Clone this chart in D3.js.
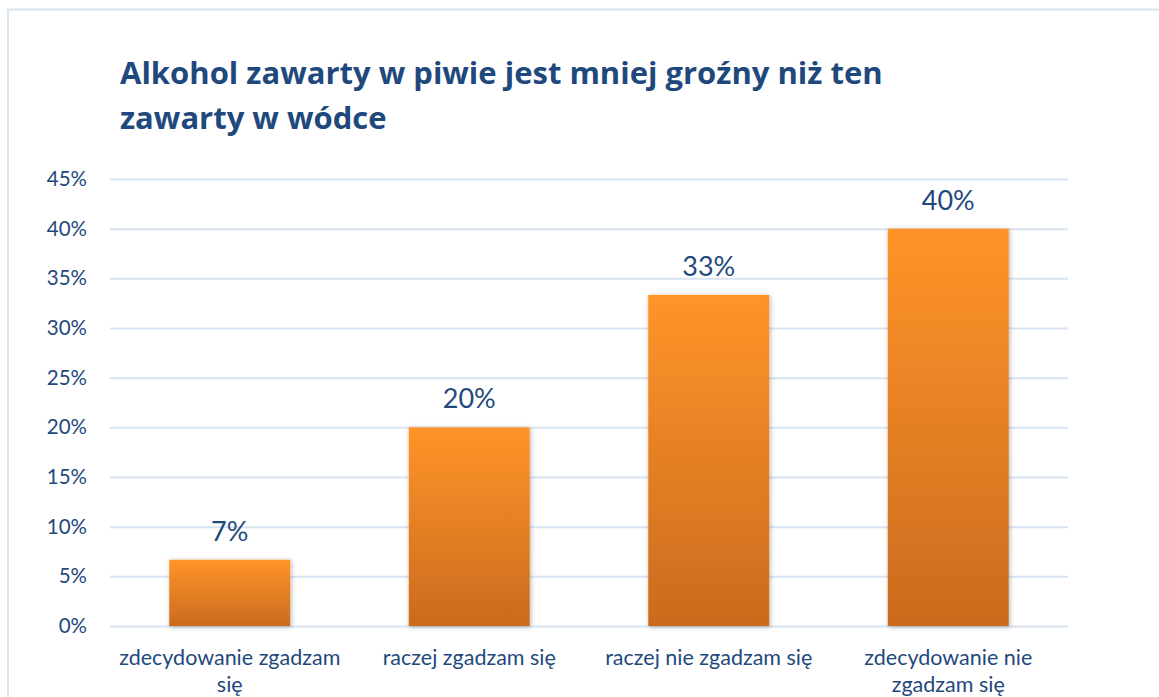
<!DOCTYPE html>
<html>
<head>
<meta charset="utf-8">
<script src="https://cdn.jsdelivr.net/npm/d3@7"></script>
<style>
  body { margin: 0; background: #fff; }
  svg { display: block; font-family: Lato, "Open Sans", sans-serif; }
  .tick-label, .cat-label, .value-label { fill: #1f497d; }
</style>
</head>
<body>
<script>
const categories = ["zdecydowanie zgadzam się", "raczej zgadzam się", "raczej nie zgadzam się", "zdecydowanie nie zgadzam się"]
const values = [6.67, 20, 33.33, 40]
const valueLabels = ["7%", "20%", "33%", "40%"]
const yTicks = [0, 5, 10, 15, 20, 25, 30, 35, 40, 45]
const titleLines = ["Alkohol zawarty w piwie jest mniej groźny niż ten", "zawarty w wódce"]

const w = 1159
const h = 697
const plotLeft = 110
const plotRight = 1068
const plotTop = 179
const plotBottom = 626
const textColor = "#1f497d"

const svg = d3.select("body")
  .append("svg")
  .attr("width", w)
  .attr("height", h)

const defs = svg.append("defs")
const grad = defs.append("linearGradient")
  .attr("id", "barGrad")
  .attr("x1", 0).attr("y1", 0)
  .attr("x2", 0).attr("y2", 1)
grad.append("stop").attr("offset", "0%").attr("stop-color", "#ff9429")
grad.append("stop").attr("offset", "100%").attr("stop-color", "#ca6b1e")

const shadow = defs.append("filter")
  .attr("id", "shadow")
  .attr("x", "-10%").attr("y", "-10%")
  .attr("width", "130%").attr("height", "130%")
shadow.append("feDropShadow")
  .attr("dx", 1).attr("dy", 1)
  .attr("stdDeviation", 2.5)
  .attr("flood-color", "#000")
  .attr("flood-opacity", 0.3)

// chart border (runs off the right and bottom edge)
svg.append("rect")
  .attr("x", 8)
  .attr("y", 9.5)
  .attr("width", w + 10)
  .attr("height", h + 10)
  .attr("fill", "none")
  .attr("stroke", "#d9e4f2")
  .attr("stroke-width", 2)

svg.append("text")
  .attr("class", "chart-title")
  .attr("x", 120)
  .attr("y", 84)
  .style("font-family", "'Open Sans', sans-serif")
  .style("font-size", "31px")
  .style("font-weight", "bold")
  .attr("fill", textColor)
  .selectAll("tspan")
  .data(titleLines)
  .enter()
  .append("tspan")
  .attr("x", 120)
  .attr("dy", (d, i) => i == 0 ? 0 : 45)
  .text(d => d)

const xScale = d3.scaleBand()
  .domain(categories)
  .range([plotLeft, plotRight])
  .paddingInner(0.495)
  .paddingOuter(0.2475)

const yScale = d3.scaleLinear()
  .domain([0, 45])
  .range([plotBottom, plotTop])

const yAxis = d3.axisLeft(yScale)
  .tickValues(yTicks)
  .tickSize(-(plotRight - plotLeft))
  .tickPadding(23)
  .tickFormat(d => d + "%")

const yG = svg.append("g")
  .attr("transform", "translate(" + plotLeft + ",0)")
  .call(yAxis)
yG.select(".domain").remove()
yG.selectAll(".tick line")
  .attr("stroke", "#d9e4f2")
  .attr("stroke-width", 2)
yG.selectAll(".tick text")
  .attr("class", "tick-label")
  .attr("fill", textColor)
  .style("font-size", "20.5px")
  .style("font-family", "Lato, sans-serif")

svg.selectAll(".bar")
  .data(values)
  .enter()
  .append("rect")
  .attr("class", "bar")
  .attr("x", (d, i) => xScale(categories[i]))
  .attr("y", d => yScale(d))
  .attr("width", xScale.bandwidth())
  .attr("height", d => yScale(0) - yScale(d))
  .attr("fill", "url(#barGrad)")
  .attr("filter", "url(#shadow)")

svg.selectAll(".value-label")
  .data(values)
  .enter()
  .append("text")
  .attr("class", "value-label")
  .attr("x", (d, i) => xScale(categories[i]) + xScale.bandwidth() / 2)
  .attr("y", d => yScale(d) - 19)
  .attr("text-anchor", "middle")
  .style("font-size", "27px")
  .text((d, i) => valueLabels[i])

// category labels, wrapped to the band step
const catG = svg.append("g")
categories.forEach((c, i) => {
  const cx = xScale(c) + xScale.bandwidth() / 2
  const t = catG.append("text")
    .attr("class", "cat-label")
    .attr("x", cx)
    .attr("y", 665)
    .attr("text-anchor", "middle")
    .style("font-size", "21.5px")
  const words = c.split(" ")
  let line = []
  let tspan = t.append("tspan").attr("x", cx).attr("dy", 0)
  words.forEach(wd => {
    line.push(wd)
    tspan.text(line.join(" "))
    if (tspan.node().getComputedTextLength() > xScale.step() - 4 && line.length > 1) {
      line.pop()
      tspan.text(line.join(" "))
      line = [wd]
      tspan = t.append("tspan").attr("x", cx).attr("dy", 27).text(wd)
    }
  })
})
</script>
</body>
</html>
